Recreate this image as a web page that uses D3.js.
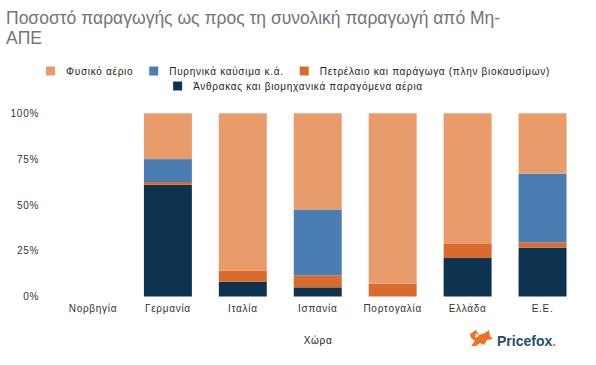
<!DOCTYPE html>
<html lang="el">
<head>
<meta charset="utf-8">
<script src="https://d3js.org/d3.v7.min.js"></script>
<style type="text/css">
body {
	margin: 0;
	background-color: #ffffff;
	font-family: "Liberation Sans", Arial, sans-serif;
}
.axis text {
	font: 10px "Liberation Sans", Arial, sans-serif;
	letter-spacing: 0.7px;
	fill: #333;
}
.axis line, .axis path {
	display: none;
}
</style>
</head>
<body>
<div id="chart"></div>
<script type="text/javascript">

	// Chart data
	var countries = ["Νορβηγία", "Γερμανία", "Ιταλία", "Ισπανία", "Πορτογαλία", "Ελλάδα", "Ε.Ε."];
	var coal    = [0, 0.61, 0.08, 0.05, 0.00, 0.21, 0.267];
	var oil     = [0, 0.015, 0.06, 0.065, 0.07, 0.08, 0.028];
	var nuclear = [0, 0.125, 0.00, 0.36, 0.00, 0.00, 0.375];
	var gas     = [0, 0.25, 0.86, 0.525, 0.93, 0.71, 0.33];
	var yTicks = [0, 0.25, 0.5, 0.75, 1];

	var seriesNames = ["Φυσικό αέριο", "Πυρηνικά καύσιμα κ.ά.", "Πετρέλαιο και παράγωγα (πλην βιοκαυσίμων)", "Άνθρακας και βιομηχανικά παραγόμενα αέρια"];
	var seriesKeys = ["gas", "nuclear", "oil", "coal"];
	var seriesColors = ["#E99C6B", "#4A7EB3", "#D96B2E", "#0D3351"];

	var width = 596;
	var height = 365;

	var svg = d3.select("#chart")
	  .append("svg")
	  .attr("width", width)
	  .attr("height", height);

	// title
	var title = svg.append("text")
	  .attr("x", 6)
	  .attr("y", 24)
	  .style("font-size", "17.5px")
	  .style("fill", "#757575");
	title.append("tspan").attr("x", 6).text("Ποσοστό παραγωγής ως προς τη συνολική παραγωγή από Μη-");
	title.append("tspan").attr("x", 6).attr("dy", 20).text("ΑΠΕ");

	// build table for stacking
	var table = countries.map(function(c, i) {
		return { country: c, coal: coal[i], oil: oil[i], nuclear: nuclear[i], gas: gas[i] };
	});
	var stack = d3.stack().keys(["coal", "oil", "nuclear", "gas"]);
	var layers = stack(table);
	var colorOf = d3.scaleOrdinal().domain(seriesKeys).range(seriesColors);

	var x = d3.scaleBand()
	  .domain(countries)
	  .range([55.5, 580])
	  .paddingInner(0.36)
	  .paddingOuter(0.18);

	var y = d3.scaleLinear()
	  .domain([0, 1])
	  .range([296.5, 113.3]);

	// bars
	var g = svg.append("g");
	g.selectAll("g.layer")
	  .data(layers)
	  .enter()
	  .append("g")
	  .attr("class", "layer")
	  .style("fill", function(d) { return colorOf(d.key); })
	  .selectAll("rect")
	  .data(function(d) { return d; })
	  .enter()
	  .append("rect")
	  .attr("x", function(d) { return x(d.data.country); })
	  .attr("y", function(d) { return y(d[1]); })
	  .attr("width", x.bandwidth())
	  .attr("height", function(d) { return y(d[0]) - y(d[1]); });

	// axes
	svg.append("g")
	  .attr("class", "axis")
	  .attr("transform", "translate(39,0)")
	  .call(d3.axisLeft(y).tickValues(yTicks).tickSize(0).tickPadding(0).tickFormat(d3.format(".0%")));

	svg.append("g")
	  .attr("class", "axis")
	  .attr("transform", "translate(0,296.5)")
	  .call(d3.axisBottom(x).tickSize(0).tickPadding(8));

	svg.append("text")
	  .attr("x", 318)
	  .attr("y", 344)
	  .attr("text-anchor", "middle")
	  .style("font-size", "10px")
	  .style("letter-spacing", "0.7px")
	  .style("fill", "#222")
	  .text("Χώρα");

	// legend: two centred rows
	var rows = [[0, 1, 2], [3]];
	var rowY = [71, 86];
	var itemGap = 16;
	rows.forEach(function(row, r) {
		var items = row.map(function(i) {
			var gi = svg.append("g").attr("class", "legend");
			gi.append("rect")
			  .attr("x", 0)
			  .attr("y", -4.5)
			  .attr("width", 9)
			  .attr("height", 9)
			  .style("fill", seriesColors[i]);
			var t = gi.append("text")
			  .attr("x", 20)
			  .attr("y", 3.5)
			  .style("font-size", "10px")
			  .style("letter-spacing", "0.7px")
			  .style("fill", "#222")
			  .text(seriesNames[i]);
			return { g: gi, w: 20 + t.node().getComputedTextLength() };
		});
		var total = d3.sum(items, function(d) { return d.w; }) + itemGap * (items.length - 1);
		var cx = 298 - total / 2;
		items.forEach(function(it) {
			it.g.attr("transform", "translate(" + cx + "," + rowY[r] + ")");
			cx += it.w + itemGap;
		});
	});

	// logo
	var logo = svg.append("g").attr("transform", "translate(468,330)");
	logo.append("path")
	  .attr("d", "M2,4 L8,0 L11,5 L17,3 L21,0 L22,6 L25,9 L19,10 L16,15 L12,13 L8,16 L3,16 L7,11 L3,8 Z")
	  .style("fill", "#EE7125");
	logo.append("path")
	  .attr("d", "M8,3 L11,6 L7,8 Z")
	  .style("fill", "#ffffff");
	var brand = svg.append("text")
	  .attr("x", 497)
	  .attr("y", 346)
	  .style("font-size", "14px")
	  .style("font-weight", "bold")
	  .style("fill", "#1E4F6B");
	brand.append("tspan").text("Pricefox");
	brand.append("tspan").style("fill", "#EE7125").text(".");

</script>
</body>
</html>
